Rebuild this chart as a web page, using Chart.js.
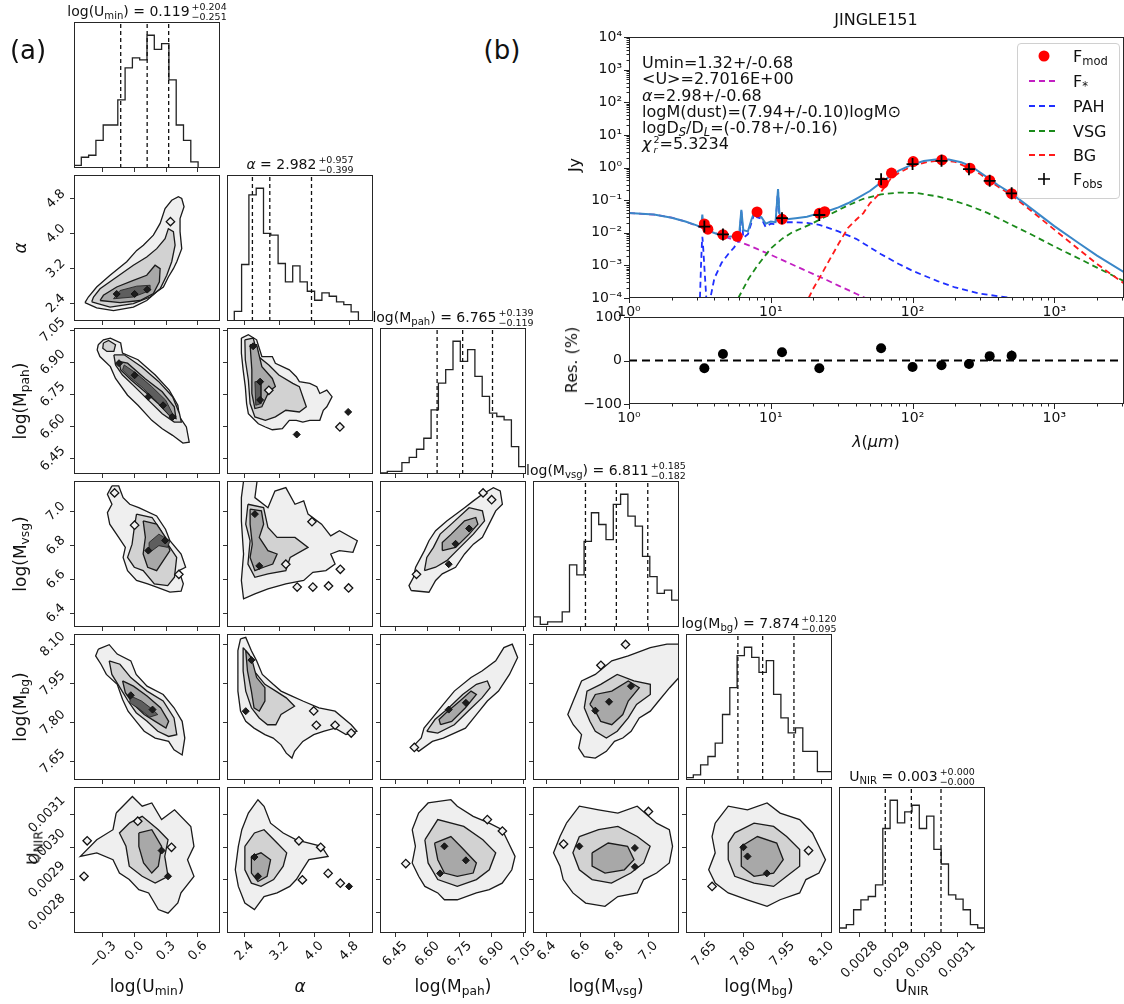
<!DOCTYPE html>
<html><head><meta charset="utf-8"><title>JINGLE151 corner + SED</title>
<script src="https://cdn.jsdelivr.net/npm/chart.js@4.4.1/dist/chart.umd.min.js"></script>
<style>
html,body{margin:0;padding:0;background:#fff;}
body{width:1124px;height:1004px;position:relative;overflow:hidden;font-family:"DejaVu Sans",sans-serif;color:#111;}
canvas{position:absolute;}
.ov{position:absolute;white-space:nowrap;line-height:1;color:#111;font-family:"DejaVu Sans",sans-serif;}
.stk{display:inline-block;vertical-align:-3px;font-size:9.5px;line-height:9.5px;margin-left:2px;text-align:left;}
.stk span{display:block;}
sub{font-size:72%;vertical-align:-0.28em;line-height:0;}
</style></head><body>
<script>
// ================= CORNER PLOT DATA =================
const paramNames = ['log(U<sub>min</sub>)','<i>α</i>','log(M<sub>pah</sub>)','log(M<sub>vsg</sub>)','log(M<sub>bg</sub>)','U<sub>NIR</sub>'];
const axisLo = [-0.575, 2.0, 6.38, 6.32, 7.58, 0.002737];
const axisHi = [0.81, 5.35, 7.06, 7.18, 8.14, 0.003185];
const ticksU = [-0.3, 0.0, 0.3, 0.6];
const ticksA = [2.4, 3.2, 4.0, 4.8];
const ticksP = [6.45, 6.60, 6.75, 6.90, 7.05];
const ticksV = [6.4, 6.6, 6.8, 7.0];
const ticksB = [7.65, 7.80, 7.95, 8.10];
const ticksN = [0.0028, 0.0029, 0.0030, 0.0031];
const tickDecimals = [1, 1, 2, 1, 2, 4];

const medStr   = ['0.119','2.982','6.765','6.811','7.874','0.003'];
const plusStr  = ['0.204','0.957','0.139','0.185','0.120','0.000'];
const minusStr = ['0.251','0.399','0.119','0.182','0.095','0.000'];

const quantU = [-0.132, 0.119, 0.323];
const quantA = [2.583, 2.982, 3.939];
const quantP = [6.646, 6.765, 6.904];
const quantV = [6.629, 6.811, 6.996];
const quantB = [7.779, 7.874, 7.994];
const quantN = [0.002879, 0.002959, 0.003050];

const histU = [8,32,38,82,128,128,203,298,328,322,395,353,370,262,128,82,18,0,0,0];
const histA = [0,29,169,377,397,262,257,172,117,165,117,89,62,84,74,57,49,27,0,0];
const histP = [3,8,8,34,50,74,107,192,272,312,397,337,372,292,232,182,172,162,82,22];
const histV = [30,8,15,15,45,185,155,255,340,305,260,365,395,330,300,210,150,100,110,80];
const histB = [7,15,45,70,110,195,275,370,395,365,320,355,255,185,140,155,85,85,25,25];
const histN = [15,25,70,100,110,145,315,400,332,365,385,315,352,252,208,115,102,70,25,15];

// ---- 2D contours (data units: [x, y]) ----
const A_U_outer = [[-0.471,2.42],[-0.36,2.30],[-0.20,2.24],[-0.012,2.32],[0.115,2.47],[0.21,2.67],[0.273,2.78],[0.32,3.01],[0.368,3.20],[0.40,3.36],[0.447,3.66],[0.431,4.05],[0.431,4.35],[0.469,4.62],[0.447,4.81],[0.415,4.85],[0.352,4.77],[0.289,4.58],[0.242,4.24],[0.178,3.97],[0.083,3.74],[0.02,3.62],[-0.075,3.36],[-0.233,3.05],[-0.36,2.78],[-0.439,2.55]];
const A_U_mid = [[-0.407,2.44],[-0.233,2.32],[-0.012,2.40],[0.147,2.55],[0.242,2.74],[0.305,3.05],[0.352,3.36],[0.384,3.74],[0.368,4.05],[0.32,4.12],[0.289,3.89],[0.21,3.66],[0.115,3.47],[-0.012,3.28],[-0.17,3.01],[-0.328,2.74],[-0.39,2.55]];
const A_U_inner = [[-0.328,2.47],[-0.138,2.42],[0.052,2.47],[0.178,2.63],[0.235,2.90],[0.242,3.20],[0.194,3.28],[0.115,3.05],[-0.012,2.93],[-0.17,2.78],[-0.296,2.59]];
const A_U_core = [[-0.2,2.51],[-0.012,2.55],[0.147,2.70],[0.147,2.82],[0.02,2.80],[-0.138,2.70]];
const A_U_dots = [[-0.17,2.62],[0.0,2.62],[0.12,2.72]];
const A_U_isl = [[0.34,4.28]];

const P_U_outer = [[-0.345,6.982],[-0.296,7.005],[-0.230,7.013],[-0.132,6.99],[-0.115,6.943],[0.032,6.912],[0.196,6.841],[0.328,6.771],[0.410,6.70],[0.426,6.646],[0.491,6.599],[0.518,6.528],[0.458,6.524],[0.360,6.56],[0.262,6.591],[0.163,6.63],[0.032,6.70],[-0.067,6.747],[-0.181,6.825],[-0.230,6.88],[-0.329,6.927],[-0.355,6.958]];
const P_U_mid = [[-0.197,6.935],[-0.099,6.935],[0.065,6.88],[0.229,6.81],[0.36,6.74],[0.426,6.661],[0.443,6.622],[0.376,6.622],[0.262,6.661],[0.13,6.724],[0.0,6.787],[-0.115,6.841],[-0.181,6.888]];
const P_U_mid2 = [[-0.296,6.99],[-0.247,7.002],[-0.181,6.982],[-0.197,6.951],[-0.263,6.951],[-0.302,6.966]];
const P_U_inner = [[-0.148,6.904],[-0.067,6.896],[0.098,6.825],[0.262,6.763],[0.376,6.693],[0.393,6.638],[0.345,6.646],[0.229,6.706],[0.098,6.763],[-0.033,6.818],[-0.132,6.865]];
const P_U_core = [[-0.099,6.888],[0.016,6.849],[0.163,6.787],[0.295,6.724],[0.36,6.661],[0.328,6.653],[0.213,6.716],[0.082,6.779],[-0.05,6.833],[-0.115,6.865]];
const P_U_dots = [[-0.148,6.896],[0.0,6.84],[0.13,6.74],[0.27,6.70],[0.36,6.646]];
const P_U_isl = [];

const P_A_outer = [[2.33,7.013],[2.49,7.029],[2.68,7.005],[2.80,6.927],[3.04,6.927],[3.11,6.896],[3.43,6.865],[3.59,6.833],[3.66,6.81],[3.90,6.802],[4.06,6.787],[4.13,6.755],[4.29,6.771],[4.41,6.74],[4.29,6.693],[4.21,6.677],[4.13,6.63],[3.90,6.63],[3.74,6.622],[3.59,6.63],[3.43,6.63],[3.27,6.591],[3.04,6.586],[2.88,6.599],[2.72,6.614],[2.49,6.661],[2.45,6.708],[2.42,6.787],[2.37,6.865],[2.33,6.943]];
const P_A_mid = [[2.41,7.005],[2.60,7.013],[2.72,6.927],[2.96,6.888],[3.19,6.841],[3.51,6.802],[3.66,6.787],[3.74,6.74],[3.82,6.693],[3.66,6.669],[3.35,6.677],[3.11,6.646],[2.88,6.63],[2.64,6.646],[2.53,6.708],[2.49,6.818],[2.42,6.912]];
const P_A_inner = [[2.53,6.982],[2.68,6.982],[2.80,6.88],[3.04,6.825],[3.11,6.787],[2.96,6.763],[2.80,6.693],[2.64,6.685],[2.57,6.755],[2.57,6.865]];
const P_A_core = [[2.64,6.81],[2.78,6.81],[2.78,6.708],[2.66,6.70]];
const P_A_dots = [[2.60,6.975],[2.76,6.81],[2.76,6.725],[3.60,6.564],[4.78,6.669]];
const P_A_isl = [[4.59,6.599],[2.96,6.77]];

const V_U_outer = [[-0.215,7.151],[-0.151,7.151],[-0.109,7.082],[-0.046,7.043],[0.039,7.023],[0.209,6.974],[0.293,6.896],[0.335,6.828],[0.441,6.75],[0.484,6.672],[0.42,6.652],[0.462,6.574],[0.441,6.531],[0.335,6.525],[0.209,6.555],[0.124,6.574],[0.018,6.594],[-0.067,6.652],[-0.109,6.73],[-0.088,6.789],[-0.151,6.848],[-0.236,6.926],[-0.258,6.994],[-0.215,7.043],[-0.258,7.102]];
const V_U_mid = [[0.018,6.985],[0.166,6.965],[0.25,6.887],[0.314,6.808],[0.399,6.73],[0.378,6.613],[0.314,6.564],[0.187,6.574],[0.081,6.652],[-0.003,6.672],[-0.067,6.73],[-0.024,6.808],[-0.003,6.906]];
const V_U_inner = [[0.081,6.945],[0.209,6.926],[0.293,6.848],[0.335,6.77],[0.272,6.711],[0.209,6.652],[0.124,6.672],[0.081,6.75],[0.102,6.848]];
const V_U_core = [[0.23,6.867],[0.335,6.828],[0.314,6.789],[0.23,6.799],[0.145,6.76],[0.137,6.818]];
const V_U_dots = [[0.29,6.83],[0.13,6.77]];
const V_U_isl = [[-0.19,7.11],[0.0,6.92],[0.42,6.63]];

const V_A_outer = [[2.38,7.18],[2.69,7.18],[2.64,7.082],[2.94,7.023],[3.10,7.121],[3.35,7.141],[3.56,7.043],[3.76,7.063],[3.86,6.985],[4.17,6.926],[4.38,6.857],[4.58,6.887],[4.99,6.828],[4.89,6.76],[4.58,6.77],[4.38,6.75],[4.48,6.691],[4.27,6.652],[3.97,6.642],[3.76,6.594],[3.35,6.574],[2.94,6.544],[2.64,6.515],[2.38,6.486],[2.33,6.594],[2.38,6.75],[2.33,6.945],[2.33,7.082]];
const V_A_mid = [[2.48,7.043],[2.84,7.023],[2.94,6.906],[3.15,6.848],[3.56,6.848],[3.86,6.789],[3.45,6.73],[3.35,6.652],[2.94,6.633],[2.64,6.613],[2.48,6.691],[2.53,6.828],[2.43,6.926]];
const V_A_inner = [[2.53,7.014],[2.79,7.004],[2.84,6.926],[2.74,6.848],[2.94,6.77],[3.15,6.75],[3.05,6.691],[2.84,6.672],[2.64,6.652],[2.53,6.73],[2.58,6.808],[2.53,6.926]];
const V_A_dots = [[2.64,6.985],[2.74,6.68]];
const V_A_isl = [[3.61,6.555],[3.97,6.555],[4.33,6.562],[4.79,6.55],[3.35,6.69],[4.6,6.66],[3.95,6.94]];

const V_P_outer = [[6.525,6.535],[6.608,6.525],[6.639,6.594],[6.67,6.633],[6.732,6.672],[6.774,6.75],[6.815,6.808],[6.857,6.848],[6.888,6.926],[6.919,7.004],[6.95,7.043],[6.94,7.121],[6.908,7.141],[6.857,7.102],[6.815,7.063],[6.774,7.023],[6.691,6.945],[6.639,6.887],[6.608,6.828],[6.587,6.77],[6.546,6.672],[6.536,6.613],[6.515,6.564]];
const V_P_mid = [[6.587,6.652],[6.639,6.672],[6.691,6.711],[6.753,6.789],[6.815,6.867],[6.867,6.945],[6.857,7.004],[6.795,7.023],[6.712,6.926],[6.66,6.867],[6.629,6.789],[6.598,6.73]];
const V_P_inner = [[6.67,6.77],[6.732,6.789],[6.795,6.867],[6.836,6.926],[6.826,6.965],[6.774,6.945],[6.712,6.867],[6.67,6.818]];
const V_P_dots = [[6.795,6.90],[6.732,6.81],[6.70,6.69]];
const V_P_isl = [[6.55,6.63],[6.90,7.07],[6.86,7.11]];

const B_U_outer = [[-0.344,8.082],[-0.241,8.099],[-0.165,8.063],[-0.036,8.037],[0.015,7.985],[0.118,7.94],[0.271,7.908],[0.374,7.857],[0.451,7.805],[0.476,7.741],[0.451,7.676],[0.374,7.696],[0.323,7.728],[0.195,7.741],[0.091,7.767],[0.015,7.805],[-0.062,7.844],[-0.114,7.889],[-0.165,7.947],[-0.268,7.985],[-0.319,8.024],[-0.37,8.056]];
const B_U_mid = [[-0.241,8.037],[-0.139,8.024],[-0.036,7.973],[0.118,7.921],[0.271,7.883],[0.374,7.818],[0.40,7.754],[0.323,7.747],[0.22,7.767],[0.118,7.805],[0.015,7.838],[-0.062,7.883],[-0.139,7.934],[-0.216,7.985]];
const B_U_inner = [[-0.114,7.96],[-0.011,7.94],[0.118,7.902],[0.246,7.857],[0.323,7.805],[0.297,7.779],[0.195,7.805],[0.091,7.831],[-0.011,7.87],[-0.088,7.915]];
const B_U_core = [[-0.036,7.902],[0.066,7.883],[0.169,7.851],[0.22,7.831],[0.143,7.821],[0.04,7.854],[-0.048,7.876]];
const B_U_dots = [[-0.036,7.905],[0.17,7.85]];
const B_U_isl = [];

const B_A_outer = [[2.31,8.121],[2.43,8.127],[2.56,8.076],[2.68,8.037],[2.81,7.985],[3.06,7.947],[3.24,7.921],[3.49,7.902],[3.74,7.883],[4.11,7.857],[4.48,7.844],[4.85,7.792],[4.98,7.767],[4.73,7.754],[4.48,7.779],[4.23,7.767],[3.99,7.754],[3.74,7.728],[3.55,7.69],[3.49,7.664],[3.36,7.683],[3.24,7.715],[3.06,7.741],[2.87,7.754],[2.62,7.779],[2.43,7.805],[2.31,7.844],[2.25,7.921],[2.25,8.011],[2.25,8.076]];
const B_A_mid = [[2.37,8.088],[2.50,8.063],[2.62,7.998],[2.87,7.947],[3.12,7.921],[3.36,7.895],[3.55,7.863],[3.24,7.831],[3.12,7.792],[2.93,7.792],[2.74,7.818],[2.56,7.857],[2.43,7.921],[2.37,7.998]];
const B_A_inner = [[2.43,8.076],[2.56,8.05],[2.68,7.973],[2.87,7.934],[2.87,7.883],[2.74,7.844],[2.62,7.857],[2.56,7.921],[2.47,7.998]];
const B_A_dots = [[2.43,7.844],[2.56,8.04]];
const B_A_isl = [[4.05,7.79],[4.48,7.79],[4.85,7.76],[3.99,7.845]];

const B_P_outer = [[6.534,7.709],[6.56,7.69],[6.624,7.728],[6.675,7.741],[6.778,7.779],[6.829,7.831],[6.88,7.883],[6.932,7.921],[6.983,7.985],[7.021,8.05],[6.996,8.101],[6.957,8.088],[6.919,8.037],[6.855,7.998],[6.804,7.973],[6.726,7.921],[6.675,7.87],[6.624,7.818],[6.585,7.779],[6.572,7.741]];
const B_P_mid = [[6.598,7.767],[6.649,7.76],[6.726,7.792],[6.79,7.844],[6.855,7.895],[6.893,7.934],[6.88,7.96],[6.829,7.947],[6.765,7.908],[6.701,7.857],[6.636,7.812]];
const B_P_inner = [[6.662,7.792],[6.714,7.805],[6.778,7.857],[6.829,7.908],[6.804,7.921],[6.752,7.883],[6.688,7.838],[6.655,7.812]];
const B_P_dots = [[6.70,7.85],[6.78,7.876]];
const B_P_isl = [[6.54,7.705]];

const B_V_outer = [[6.557,7.883],[6.606,7.96],[6.687,7.985],[6.784,8.037],[6.881,8.056],[7.011,8.088],[7.109,8.101],[7.18,8.101],[7.18,7.973],[7.125,7.934],[7.06,7.883],[7.011,7.844],[6.946,7.818],[6.898,7.767],[6.849,7.741],[6.80,7.728],[6.752,7.69],[6.687,7.664],[6.622,7.67],[6.589,7.702],[6.606,7.754],[6.557,7.792],[6.525,7.831]];
const B_V_mid = [[6.622,7.857],[6.638,7.921],[6.719,7.947],[6.816,7.985],[6.914,7.96],[7.011,7.947],[7.011,7.908],[6.93,7.87],[6.881,7.818],[6.816,7.767],[6.752,7.741],[6.687,7.767],[6.655,7.805]];
const B_V_inner = [[6.655,7.87],[6.687,7.908],[6.784,7.921],[6.881,7.96],[6.946,7.934],[6.881,7.883],[6.849,7.831],[6.784,7.792],[6.719,7.805],[6.687,7.844]];
const B_V_dots = [[6.687,7.846],[6.768,7.88],[6.897,7.94]];
const B_V_isl = [[6.865,8.10],[6.72,8.02]];

const N_U_outer = [[-0.175,0.003105],[-0.021,0.003156],[0.072,0.003126],[0.163,0.003136],[0.256,0.003085],[0.379,0.003115],[0.533,0.003064],[0.563,0.003003],[0.502,0.002962],[0.563,0.002911],[0.44,0.00286],[0.41,0.002829],[0.317,0.002798],[0.225,0.002809],[0.133,0.00286],[0.04,0.00287],[-0.051,0.002901],[-0.144,0.002921],[-0.205,0.002962],[-0.359,0.002983],[-0.514,0.002972],[-0.359,0.003023],[-0.205,0.003054]];
const N_U_mid = [[-0.051,0.003074],[0.072,0.003095],[0.225,0.003054],[0.317,0.003023],[0.286,0.002972],[0.317,0.002911],[0.195,0.00289],[0.072,0.002911],[-0.051,0.002942],[-0.082,0.003003],[-0.144,0.003044]];
const N_U_inner = [[0.04,0.003044],[0.163,0.003054],[0.256,0.003003],[0.225,0.002942],[0.163,0.002921],[0.085,0.002952],[0.04,0.003003]];
const N_U_dots = [[0.317,0.002911],[0.256,0.00299]];
const N_U_isl = [[-0.48,0.002911],[-0.45,0.00302],[0.03,0.00308],[0.35,0.0030]];

const N_A_outer = [[2.26,0.003003],[2.34,0.003054],[2.49,0.003105],[2.71,0.003146],[2.85,0.003126],[3.0,0.003074],[3.29,0.003044],[3.59,0.003023],[3.88,0.003013],[4.17,0.003003],[4.32,0.002972],[3.88,0.002962],[3.73,0.002931],[3.59,0.002901],[3.44,0.00288],[3.15,0.00286],[2.85,0.002849],[2.63,0.002809],[2.41,0.002829],[2.26,0.00288],[2.19,0.002931]];
const N_A_mid = [[2.41,0.003003],[2.63,0.003044],[2.85,0.003054],[3.15,0.003013],[3.37,0.002983],[3.29,0.002942],[3.07,0.002901],[2.78,0.00288],[2.56,0.00289],[2.41,0.002931]];
const N_A_inner = [[2.56,0.002972],[2.78,0.002983],[3.0,0.002962],[2.92,0.002911],[2.71,0.002895],[2.56,0.002921]];
const N_A_dots = [[2.71,0.002911],[2.63,0.00297],[4.8,0.00288]];
const N_A_isl = [[3.73,0.0029],[4.32,0.00292],[4.6,0.00289],[4.15,0.0030],[3.65,0.00302]];

const N_P_outer = [[6.53,0.003054],[6.56,0.003105],[6.604,0.003136],[6.71,0.003146],[6.74,0.003126],[6.814,0.003095],[6.889,0.003074],[6.949,0.003054],[6.979,0.003013],[7.009,0.002972],[6.994,0.002931],[6.949,0.00289],[6.889,0.00287],[6.829,0.00286],[6.74,0.002839],[6.68,0.002839],[6.649,0.00286],[6.589,0.00288],[6.56,0.002911],[6.53,0.002952],[6.545,0.003003]];
const N_P_mid = [[6.589,0.003023],[6.649,0.003085],[6.77,0.003064],[6.859,0.003023],[6.919,0.002983],[6.889,0.002931],[6.829,0.002901],[6.74,0.00288],[6.649,0.002901],[6.604,0.002952]];
const N_P_inner = [[6.634,0.003013],[6.71,0.003033],[6.755,0.003003],[6.829,0.002952],[6.814,0.002921],[6.74,0.002911],[6.68,0.002921],[6.649,0.002962]];
const N_P_dots = [[6.68,0.003003],[6.66,0.00292],[6.78,0.00296]];
const N_P_isl = [[6.50,0.00295],[6.95,0.00305],[6.88,0.003085]];

const N_V_outer = [[6.517,0.003074],[6.593,0.003126],[6.706,0.003115],[6.82,0.003105],[6.934,0.003126],[7.048,0.003074],[7.123,0.003054],[7.142,0.003003],[7.123,0.002952],[7.048,0.002921],[6.972,0.002901],[6.934,0.00286],[6.82,0.002849],[6.744,0.002819],[6.63,0.002829],[6.555,0.00286],[6.498,0.002901],[6.479,0.002942],[6.441,0.002983],[6.479,0.003033]];
const N_V_mid = [[6.593,0.003033],[6.706,0.003054],[6.82,0.003064],[6.934,0.003033],[7.01,0.003003],[6.972,0.002952],[6.896,0.002921],[6.782,0.00289],[6.668,0.002901],[6.593,0.002931],[6.555,0.002983]];
const N_V_inner = [[6.668,0.002983],[6.763,0.003013],[6.877,0.003003],[6.915,0.002962],[6.858,0.002931],[6.744,0.002921],[6.668,0.002942]];
const N_V_dots = [[6.593,0.003003],[6.92,0.002998],[6.92,0.00294]];
const N_V_isl = [[6.50,0.00301],[7.0,0.00311]];

const N_B_outer = [[7.692,0.003074],[7.742,0.003126],[7.816,0.003115],[7.891,0.003136],[7.941,0.003105],[8.016,0.003085],[8.065,0.003044],[8.09,0.003003],[8.115,0.002962],[8.09,0.002921],[8.04,0.002901],[8.016,0.00286],[7.941,0.002839],[7.891,0.002819],[7.816,0.002839],[7.742,0.00286],[7.692,0.00289],[7.667,0.002931],[7.692,0.002983],[7.68,0.003033]];
const N_B_mid = [[7.767,0.003044],[7.841,0.003074],[7.916,0.003064],[7.966,0.003033],[8.016,0.002993],[8.016,0.002942],[7.966,0.002911],[7.916,0.00288],[7.841,0.00289],[7.767,0.002911],[7.742,0.002962],[7.742,0.003013]];
const N_B_inner = [[7.792,0.003003],[7.854,0.003033],[7.928,0.003013],[7.953,0.002962],[7.916,0.002921],[7.841,0.002911],[7.792,0.002942]];
const N_B_dots = [[7.816,0.002972],[7.89,0.00292],[7.80,0.0030]];
const N_B_isl = [[7.68,0.00288],[8.05,0.00299]];

// ================= SED DATA =================
const lamStar = [1,1.5,2,2.5,3,3.5,4,4.6,5,6,7,8,10,12,15,20,25,30,40,50];
const fStar   = [0.040,0.036,0.029,0.022,0.0165,0.0128,0.0100,0.0080,0.0070,0.0053,0.0041,0.0032,0.0021,0.00148,0.00095,0.00054,0.00035,0.00024,0.000135,0.000087];
const lamTot = [1,1.5,2,2.5,3,3.2,3.25,3.29,3.33,3.4,3.6,4,4.5,5,5.5,6.0,6.2,6.4,6.9,7.3,7.7,8.0,8.6,9.2,10,10.8,11.25,11.5,12,13,15,18,22,26,30,35,40,50,60,70,80,100,120,150,180,220,260,300,350,400,500,700,1000,1500,2000,3100];
const fTot   = [0.040,0.036,0.029,0.022,0.0168,0.0150,0.020,0.036,0.020,0.0135,0.0118,0.0098,0.0083,0.0076,0.0078,0.010,0.050,0.012,0.011,0.025,0.046,0.035,0.030,0.019,0.022,0.021,0.22,0.04,0.026,0.026,0.028,0.031,0.040,0.048,0.060,0.080,0.11,0.19,0.35,0.55,0.80,1.25,1.58,1.80,1.76,1.45,1.08,0.70,0.44,0.29,0.158,0.052,0.016,0.0047,0.0020,0.00062];
const lamPAH1 = [3.15,3.22,3.27,3.29,3.32,3.4,3.5,3.56];
const fPAH1   = [0.00005,0.001,0.005,0.0075,0.005,0.0009,0.00012,0.00003];
const lamPAH2 = [3.7,3.75,4,4.5,5,5.5,6,6.2,6.4,6.9,7.3,7.7,8,8.6,9.2,10,10.8,11.25,11.5,12,13,15,18,22,30,40,60,80,100,150,200,300,500,600];
const fPAH2   = [0.00003,0.0001,0.0004,0.0012,0.0022,0.0035,0.006,0.045,0.007,0.009,0.02,0.042,0.03,0.027,0.015,0.019,0.018,0.21,0.032,0.021,0.021,0.021,0.020,0.0175,0.011,0.0065,0.0022,0.0011,0.00068,0.00033,0.00021,0.000135,0.0001,0.00008];
const lamVSG = [5.9,7,8,10,12,14,19,22,25,34,45,60,80,107,150,190,250,340,500,700,1000,1500,2000,3100];
const fVSG   = [0.0001,0.0004,0.00095,0.0033,0.0065,0.010,0.018,0.025,0.033,0.065,0.11,0.15,0.17,0.165,0.13,0.10,0.068,0.04,0.0175,0.0085,0.0038,0.0016,0.00085,0.00033];
const lamBG = [18.5,20,22,25,30,35,40,45,50,56,60,70,80,100,130,160,200,250,300,350,400,500,700,1000,1500,2000,3100];
const fBG   = [0.0001,0.0002,0.0004,0.0011,0.0045,0.014,0.025,0.04,0.08,0.13,0.18,0.45,0.68,1.13,1.5,1.65,1.48,0.95,0.63,0.39,0.26,0.14,0.044,0.0125,0.0030,0.0011,0.00028];
const lamMod = [3.4,3.6,4.6,5.8,8.0,12,22,24,62,71,101,161,254,350,500];
const fMod   = [0.0187,0.0129,0.0087,0.0078,0.0433,0.026,0.0394,0.044,0.335,0.676,1.52,1.71,0.955,0.40,0.158];
const lamObs = [3.4,4.6,12,22,60,100,160,250,350,500];
const fObs   = [0.0155,0.0089,0.028,0.035,0.44,1.27,1.6,0.89,0.39,0.162];
const resVal = [-18,15,19,-18,28,-15,-11,-8,10,11];
const resErr = [3,3,3,3,9,8,5,4,5,12];
const lamMax = 3100;
const resTicks = [-100, 0, 100];

// ================= LAYOUT =================
const colL = [74, 227, 380, 533, 686, 839];
const rowT = [22, 175, 328, 481, 634, 787];
const PW = 146, ML = 60, MT = 22, MR = 24, MB = 60;
const tickVals = [ticksU, ticksA, ticksP, ticksV, ticksB, ticksN];
const hists = [histU, histA, histP, histV, histB, histN];
const quants = [quantU, quantA, quantP, quantV, quantB, quantN];
const levelFill = ['#efefef', '#d2d2d2', '#a8a8a8', '#5e5e5e'];

Chart.defaults.font.family = "'DejaVu Sans', sans-serif";
Chart.defaults.color = '#111';
Chart.defaults.elements.point.radius = 0;
Chart.defaults.elements.line.tension = 0;
Chart.defaults.plugins.legend.display = false;
Chart.defaults.plugins.tooltip.enabled = false;
Chart.defaults.animation = false;
Chart.defaults.responsive = false;
Chart.defaults.events = [];
Chart.defaults.layout.autoPadding = false;

const fmt = (v, d) => v.toFixed(d).replace('-', '\u2212');
const xy = (xs, ys) => xs.map((x, i) => ({x: x, y: ys[i]}));
const pts = arr => arr.map(p => ({x: p[0], y: p[1]}));
const closed = arr => pts(arr.concat([arr[0]]));
function isPow10(v) { const e = Math.round(Math.log10(v)); return Math.abs(v / Math.pow(10, e) - 1) < 1e-6; }

const deco = {
  id: 'deco',
  afterDraw(chart, args, o) {
    const ctx = chart.ctx, a = chart.chartArea;
    ctx.save();
    ctx.strokeStyle = '#262626'; ctx.lineWidth = 1;
    ctx.strokeRect(a.left + 0.5, a.top + 0.5, a.right - a.left - 1, a.bottom - a.top - 1);
    ctx.fillStyle = '#111';
    ctx.font = "13px 'DejaVu Sans'";
    ctx.textAlign = 'center'; ctx.textBaseline = 'middle';
    const h = 11;
    if (o && o.xLab) {
      const s = chart.scales.x;
      o.xLab.forEach(v => {
        const t = fmt(v, o.xDec), w = ctx.measureText(t).width, bb = (w + h) * 0.7071;
        ctx.save(); ctx.translate(s.getPixelForValue(v), a.bottom + 7 + bb / 2); ctx.rotate(-Math.PI / 4); ctx.fillText(t, 0, 0); ctx.restore();
      });
    }
    if (o && o.yLab) {
      const s = chart.scales.y;
      o.yLab.forEach(v => {
        const t = fmt(v, o.yDec), w = ctx.measureText(t).width, bb = (w + h) * 0.7071;
        ctx.save(); ctx.translate(a.left - 7 - bb / 2, s.getPixelForValue(v)); ctx.rotate(-Math.PI / 4); ctx.fillText(t, 0, 0); ctx.restore();
      });
    }
    if (o && o.logTicks) {
      ctx.strokeStyle = '#222'; ctx.lineWidth = 1;
      const sx = chart.scales.x, sy = chart.scales.y;
      sx.ticks.forEach(t => {
        const px = Math.round(sx.getPixelForValue(t.value)) + 0.5, len = isPow10(t.value) ? 5 : 2.5;
        ctx.beginPath(); ctx.moveTo(px, a.bottom); ctx.lineTo(px, a.bottom + len); ctx.stroke();
      });
      sy.ticks.forEach(t => {
        const py = Math.round(sy.getPixelForValue(t.value)) + 0.5, len = (o.yLinear || isPow10(t.value)) ? 5 : 2.5;
        ctx.beginPath(); ctx.moveTo(a.left, py); ctx.lineTo(a.left - len, py); ctx.stroke();
      });
    }
    ctx.restore();
  }
};
Chart.register(deco);

function mkCanvas(l, t, w, h) {
  const c = document.createElement('canvas');
  c.width = w; c.height = h; c.style.left = l + 'px'; c.style.top = t + 'px';
  document.body.appendChild(c);
  return c;
}
const tickGrid = {drawOnChartArea: false, drawTicks: true, tickLength: 4, color: '#333', lineWidth: 1};

function cornerChart(r, c, datasets, yMax) {
  const cv = mkCanvas(colL[c] - ML, rowT[r] - MT, PW + ML + MR, PW + MT + MB);
  const isHist = r === c;
  const xScale = {type: 'linear', min: axisLo[c], max: axisHi[c],
    afterFit: s => { s.height = MB; s.paddingLeft = 0; s.paddingRight = 0; },
    afterBuildTicks: s => { s.ticks = tickVals[c].map(v => ({value: v})); },
    ticks: {display: false}, grid: tickGrid, border: {display: false}};
  const yScale = isHist ?
    {type: 'linear', min: 0, max: yMax, afterFit: s => { s.width = ML; s.paddingTop = 0; s.paddingBottom = 0; }, ticks: {display: false}, grid: {display: false}, border: {display: false}} :
    {type: 'linear', min: axisLo[r], max: axisHi[r], afterFit: s => { s.width = ML; s.paddingTop = 0; s.paddingBottom = 0; },
     afterBuildTicks: s => { s.ticks = tickVals[r].map(v => ({value: v})); },
     ticks: {display: false}, grid: tickGrid, border: {display: false}};
  new Chart(cv, {type: 'line', data: {datasets: datasets}, options: {
    devicePixelRatio: 1,
    layout: {autoPadding: false, padding: {left: 0, top: MT, right: MR, bottom: 0}},
    scales: {x: xScale, y: yScale},
    plugins: {deco: {xLab: r === 5 ? tickVals[c] : null, xDec: tickDecimals[c],
                     yLab: (c === 0 && r > 0) ? tickVals[r] : null, yDec: tickDecimals[r]}}
  }});
}

// ---- histograms on the diagonal ----
for (let k = 0; k < 6; k++) {
  const counts = hists[k], lo = axisLo[k], hi = axisHi[k], n = counts.length, step = (hi - lo) / n;
  const stepPts = [{x: lo, y: 0}];
  counts.forEach((cnt, i) => stepPts.push({x: lo + i * step, y: cnt}));
  stepPts.push({x: hi, y: counts[n - 1]});
  stepPts.push({x: hi, y: 0});
  const yMax = Math.max.apply(null, counts) * 1.1;
  const ds = quants[k].map(q => ({data: [{x: q, y: 0}, {x: q, y: yMax}], borderColor: '#111', borderWidth: 1.3, borderDash: [4, 3]}));
  ds.push({data: stepPts, stepped: true, borderColor: '#222', borderWidth: 1.3});
  cornerChart(k, k, ds, yMax);
}

// ---- 2D panels ----
const panels = [
  {r:1,c:0, layers:[[A_U_outer,0],[A_U_mid,1],[A_U_inner,2],[A_U_core,3]], dots:A_U_dots, isl:A_U_isl},
  {r:2,c:0, layers:[[P_U_outer,0],[P_U_mid,1],[P_U_mid2,1],[P_U_inner,2],[P_U_core,3]], dots:P_U_dots, isl:P_U_isl},
  {r:2,c:1, layers:[[P_A_outer,0],[P_A_mid,1],[P_A_inner,2],[P_A_core,3]], dots:P_A_dots, isl:P_A_isl},
  {r:3,c:0, layers:[[V_U_outer,0],[V_U_mid,1],[V_U_inner,2],[V_U_core,3]], dots:V_U_dots, isl:V_U_isl},
  {r:3,c:1, layers:[[V_A_outer,0],[V_A_mid,1],[V_A_inner,2]], dots:V_A_dots, isl:V_A_isl},
  {r:3,c:2, layers:[[V_P_outer,0],[V_P_mid,1],[V_P_inner,2]], dots:V_P_dots, isl:V_P_isl},
  {r:4,c:0, layers:[[B_U_outer,0],[B_U_mid,1],[B_U_inner,2],[B_U_core,3]], dots:B_U_dots, isl:B_U_isl},
  {r:4,c:1, layers:[[B_A_outer,0],[B_A_mid,1],[B_A_inner,2]], dots:B_A_dots, isl:B_A_isl},
  {r:4,c:2, layers:[[B_P_outer,0],[B_P_mid,1],[B_P_inner,2]], dots:B_P_dots, isl:B_P_isl},
  {r:4,c:3, layers:[[B_V_outer,0],[B_V_mid,1],[B_V_inner,2]], dots:B_V_dots, isl:B_V_isl},
  {r:5,c:0, layers:[[N_U_outer,0],[N_U_mid,1],[N_U_inner,2]], dots:N_U_dots, isl:N_U_isl},
  {r:5,c:1, layers:[[N_A_outer,0],[N_A_mid,1],[N_A_inner,2]], dots:N_A_dots, isl:N_A_isl},
  {r:5,c:2, layers:[[N_P_outer,0],[N_P_mid,1],[N_P_inner,2]], dots:N_P_dots, isl:N_P_isl},
  {r:5,c:3, layers:[[N_V_outer,0],[N_V_mid,1],[N_V_inner,2]], dots:N_V_dots, isl:N_V_isl},
  {r:5,c:4, layers:[[N_B_outer,0],[N_B_mid,1],[N_B_inner,2]], dots:N_B_dots, isl:N_B_isl}
];
panels.forEach(p => {
  const ds = [];
  ds.push({data: pts(p.dots), showLine: false, pointStyle: 'rectRot', pointRadius: 3.5, backgroundColor: '#1c1c1c', borderColor: '#111', borderWidth: 1});
  ds.push({data: pts(p.isl), showLine: false, pointStyle: 'rectRot', pointRadius: 4.2, backgroundColor: '#f2f2f2', borderColor: '#111', borderWidth: 1.3});
  p.layers.slice().reverse().forEach(([arr, lev]) => {
    ds.push({data: closed(arr), fill: 'shape', backgroundColor: levelFill[lev], borderColor: '#1a1a1a', borderWidth: lev === 3 ? 0.8 : 1.3});
  });
  cornerChart(p.r, p.c, ds);
});

// ================= SED (b) =================
const supMap = {'0':'⁰','1':'¹','2':'²','3':'³','4':'⁴','5':'⁵','6':'⁶','7':'⁷','8':'⁸','9':'⁹','-':'⁻'};
const powLabel = v => isPow10(v) ? '10' + String(Math.round(Math.log10(v))).split('').map(ch => supMap[ch]).join('') : '';
const lamTicks = [];
for (let e = 0; e <= 3; e++) for (let m = 1; m <= 9; m++) { const v = m * Math.pow(10, e); if (v <= lamMax) lamTicks.push(v); }
const fluxTicks = [];
for (let e = -4; e <= 3; e++) for (let m = 1; m <= 9; m++) fluxTicks.push(m * Math.pow(10, e));
fluxTicks.push(1e4);

const hiddenGrid = {drawOnChartArea: false, drawTicks: true, tickLength: 5, color: 'rgba(0,0,0,0)'};
function lamAxis(h) {
  return {type: 'logarithmic', min: 1, max: lamMax,
    afterFit: s => { s.height = h; s.paddingLeft = 0; s.paddingRight = 0; },
    afterBuildTicks: s => { s.ticks = lamTicks.map(v => ({value: v, major: isPow10(v)})); },
    ticks: {autoSkip: false, maxRotation: 0, minRotation: 0, callback: v => powLabel(v), font: {size: 14}, padding: 1},
    grid: hiddenGrid, border: {display: false}};
}
const dash = [6, 4];
new Chart(mkCanvas(560, 0, 564, 320), {type: 'line', data: {datasets: [
  {data: xy(lamObs, fObs), showLine: false, pointStyle: 'cross', pointRadius: 6, borderColor: '#000', borderWidth: 1.8},
  {data: xy(lamMod, fMod), showLine: false, pointStyle: 'circle', pointRadius: 5.5, backgroundColor: '#ff0000', borderColor: '#ff0000', borderWidth: 0},
  {data: xy(lamTot, fTot), borderColor: '#3a87c8', borderWidth: 2},
  {data: xy(lamBG, fBG), borderColor: '#ff1a1a', borderWidth: 1.8, borderDash: dash},
  {data: xy(lamVSG, fVSG), borderColor: '#1a8a1a', borderWidth: 1.8, borderDash: dash},
  {data: xy(lamPAH2, fPAH2), borderColor: '#1f2fff', borderWidth: 1.8, borderDash: dash},
  {data: xy(lamPAH1, fPAH1), borderColor: '#1f2fff', borderWidth: 1.8, borderDash: dash},
  {data: xy(lamStar, fStar), borderColor: '#c21fc2', borderWidth: 1.8, borderDash: dash}
]}, options: {devicePixelRatio: 1,
  layout: {autoPadding: false, padding: {left: 0, top: 37, right: 0, bottom: 0}},
  scales: {x: lamAxis(22),
    y: {type: 'logarithmic', min: 1e-4, max: 1e4,
      afterFit: s => { s.width = 69; s.paddingTop = 0; s.paddingBottom = 0; },
      afterBuildTicks: s => { s.ticks = fluxTicks.map(v => ({value: v, major: isPow10(v)})); },
      ticks: {autoSkip: false, callback: v => powLabel(v), font: {size: 14}, padding: 2},
      grid: hiddenGrid, border: {display: false}}},
  plugins: {deco: {logTicks: true}}}});

const errPlugin = {id: 'errbars', beforeDatasetsDraw(chart) {
  const ctx = chart.ctx, sx = chart.scales.x, sy = chart.scales.y;
  chart.data.datasets.forEach(ds => {
    if (!ds.errY) return;
    ctx.save(); ctx.strokeStyle = '#000'; ctx.lineWidth = 1.5;
    ds.data.forEach((p, j) => {
      const px = sx.getPixelForValue(p.x);
      ctx.beginPath(); ctx.moveTo(px, sy.getPixelForValue(p.y - ds.errY[j])); ctx.lineTo(px, sy.getPixelForValue(p.y + ds.errY[j])); ctx.stroke();
    });
    ctx.restore();
  });
}};
new Chart(mkCanvas(560, 300, 564, 160), {type: 'line', data: {datasets: [
  {data: xy(lamObs, resVal), errY: resErr, showLine: false, pointStyle: 'circle', pointRadius: 5, backgroundColor: '#000', borderColor: '#000', borderWidth: 0},
  {data: [{x: 1, y: 0}, {x: lamMax, y: 0}], borderColor: '#000', borderWidth: 2, borderDash: [8, 5]}
]}, options: {devicePixelRatio: 1,
  layout: {autoPadding: false, padding: {left: 0, top: 17, right: 0, bottom: 0}},
  scales: {x: lamAxis(56),
    y: {type: 'linear', min: -100, max: 100,
      afterFit: s => { s.width = 69; s.paddingTop = 0; s.paddingBottom = 0; },
      afterBuildTicks: s => { s.ticks = resTicks.map(v => ({value: v})); },
      ticks: {callback: v => fmt(v, 0), font: {size: 14}, padding: 2},
      grid: hiddenGrid, border: {display: false}}},
  plugins: {deco: {logTicks: true, yLinear: true}}}, plugins: [errPlugin]});

// ================= TEXT OVERLAYS =================
function ov(html, x, y, size, tf, extra) {
  const d = document.createElement('div');
  d.className = 'ov'; d.innerHTML = html;
  d.style.left = x + 'px'; d.style.top = y + 'px'; d.style.fontSize = size + 'px';
  d.style.transform = tf || 'translate(-50%,-50%)';
  if (extra) Object.assign(d.style, extra);
  document.body.appendChild(d);
  return d;
}
const stack = (a, b) => '<span class="stk"><span>' + a + '</span><span>' + b + '</span></span>';
for (let k = 0; k < 6; k++) {
  ov(paramNames[k] + ' = ' + medStr[k] + stack('+' + plusStr[k], '\u2212' + minusStr[k]), colL[k] + PW / 2, rowT[k] - 11, 14);
  ov(paramNames[k], colL[k] + PW / 2, 986, 17);
}
for (let r = 1; r < 5; r++) ov(paramNames[r], 20, rowT[r] + PW / 2, 17, 'translate(-50%,-50%) rotate(-90deg)');
ov(paramNames[5], 34, 848, 17, 'translate(-50%,-50%) rotate(-90deg)');
ov('(a)', 28, 50, 26);
ov('(b)', 502, 50, 26);

ov('JINGLE151', 876, 20, 16);
ov('Jy', 575, 165, 16, 'translate(-50%,-50%) rotate(-90deg)');
ov('Res. (%)', 572, 360, 16, 'translate(-50%,-50%) rotate(-90deg)');
ov('<i>λ</i>(<i>μm</i>)', 876, 442, 16);
const statLines = ['Umin=1.32+/-0.68', '&lt;U&gt;=2.7016E+00', '<i>α</i>=2.98+/-0.68', 'logM(dust)=(7.94+/-0.10)logM⊙',
  'logD<sub><i>S</i></sub>/D<sub><i>L</i></sub>=(-0.78+/-0.16)', '<i>χ</i>' + stack('2', '<i>r</i>') + '=5.3234'];
const statY = [62.7, 79, 95.7, 111.5, 127.5, 144];
statLines.forEach((s, i) => ov(s, 642, statY[i], 16, 'translate(0,-50%)'));

const legBox = document.createElement('div');
Object.assign(legBox.style, {position: 'absolute', left: '1017px', top: '43px', width: '101px', height: '154px', border: '1px solid #d0d0d0', borderRadius: '4px', background: 'rgba(255,255,255,0.85)'});
document.body.appendChild(legBox);
const legLabels = ['F<sub>mod</sub>', 'F<sub>*</sub>', 'PAH', 'VSG', 'BG', 'F<sub>obs</sub>'];
const legKinds = ['dot', '#c21fc2', '#1f2fff', '#1a8a1a', '#ff1a1a', 'plus'];
const legY = [57, 82, 107, 132, 156, 180];
legLabels.forEach((lab, i) => {
  const k = legKinds[i];
  let svg;
  if (k === 'dot') svg = '<svg width="30" height="14"><circle cx="15" cy="7" r="5.5" fill="#ff0000"/></svg>';
  else if (k === 'plus') svg = '<svg width="30" height="14"><path d="M9 7H21M15 1V13" stroke="#000" stroke-width="1.6"/></svg>';
  else svg = '<svg width="30" height="14"><line x1="0" y1="7" x2="30" y2="7" stroke="' + k + '" stroke-width="2" stroke-dasharray="6,4"/></svg>';
  ov(svg, 1029, legY[i], 14, 'translate(0,-50%)');
  ov(lab, 1073, legY[i], 16, 'translate(0,-50%)');
});
</script></body></html>
